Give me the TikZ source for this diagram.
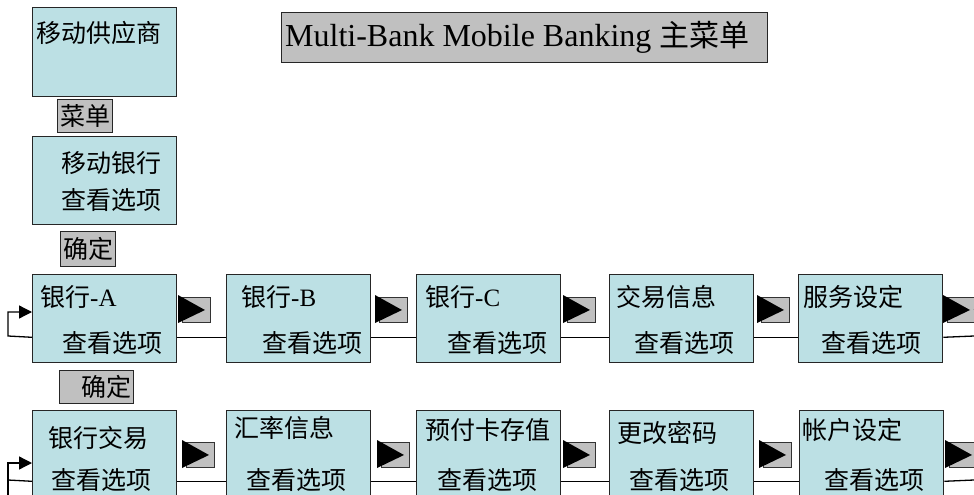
\documentclass[tikz,border=0pt]{standalone}
\usepackage{fontspec}
\setmainfont{Liberation Serif}
\newfontfamily\cjk{Noto Sans CJK SC}
\usetikzlibrary{arrows.meta}
\definecolor{boxfill}{RGB}{188,224,228}
\definecolor{btngray}{RGB}{192,192,192}
\tikzset{
  mbox/.style={draw=black!85, line width=1.3pt, fill=boxfill, minimum width=144pt, minimum height=88pt, inner sep=0pt, anchor=north west},
  glabel/.style={draw=black!85, line width=1.3pt, fill=btngray, inner sep=0pt, anchor=north west},
  btnbox/.style={draw=black!80, line width=1pt, fill=btngray, minimum width=28pt, minimum height=25pt, inner sep=0pt, anchor=north west},
  txt/.style={font=\cjk\fontsize{25}{30}\selectfont, inner sep=0pt, anchor=west},
  conn/.style={line width=1.3pt, black},
  tip/.style={-{Triangle[length=13pt,width=13pt]}}
}
\newcommand\mybtn[3]{%
  \node[btnbox] (#1) at (#2+4,#3) {};
  \fill ([xshift=-4pt,yshift=2pt]#1.north west) -- ([xshift=-4pt]#1.south west) -- ([xshift=23pt]#1.west) -- cycle;}
\begin{document}
\begin{tikzpicture}[x=1pt,y=-1pt]
\useasboundingbox (0,0) rectangle (974,495);
% title
\node[glabel, minimum width=486pt, minimum height=50pt] (title) at (281,12) {};
\node[inner sep=0pt, anchor=west, font=\fontsize{32}{36}\selectfont] (titletxt) at (285,37) {Multi-Bank Mobile Banking {\cjk\fontsize{30}{34}\selectfont 主菜单}};
% top column
\node[mbox, minimum height=89pt] (prov) at (32,7) {};
\node[txt] (provt) at (36,33) {移动供应商};
\node[glabel, minimum width=55pt, minimum height=33pt] (menu) at (57,99) {};
\node[txt, anchor=center] (menut) at (menu.center) {菜单};
\node[mbox] (mb) at (32,136) {};
\node[txt] (mbt1) at (61,163) {移动银行};
\node[txt] (mbt2) at (61,200) {查看选项};
\node[glabel, minimum width=55pt, minimum height=35pt] (ok1) at (60,231) {};
\node[txt, anchor=center] (ok1t) at (ok1.center) {确定};
% row 1
\node[mbox] (r1a) at (32,274) {};
\node[mbox] (r1b) at (226,274) {};
\node[mbox] (r1c) at (416,274) {};
\node[mbox] (r1d) at (609,274) {};
\node[mbox] (r1e) at (798,274) {};
\node[txt] (r1at) at (40,297) {{\cjk 银行}{\rmfamily -A}};
\node[txt] (r1bt) at (241,297) {{\cjk 银行}{\rmfamily -B}};
\node[txt] (r1ct) at (425,297) {{\cjk 银行}{\rmfamily -C}};
\node[txt] (r1dt) at (616,297) {交易信息};
\node[txt] (r1et) at (803,297) {服务设定};
\node[txt] (r1as) at (62,343) {查看选项};
\node[txt] (r1bs) at (262,343) {查看选项};
\node[txt] (r1cs) at (447,343) {查看选项};
\node[txt] (r1ds) at (634,343) {查看选项};
\node[txt] (r1es) at (821,343) {查看选项};
\mybtn{b1a}{178}{297}
\mybtn{b1b}{375}{297}
\mybtn{b1c}{563}{297}
\mybtn{b1d}{757}{297}
\mybtn{b1e}{943}{297}
% second ok
\node[glabel, minimum width=74pt, minimum height=33pt] (ok2) at (59,370) {};
\node[txt] (ok2t) at (81,387) {确定};
% row 2
\node[mbox] (r2a) at (32,410) {};
\node[mbox] (r2b) at (226,410) {};
\node[mbox] (r2c) at (416,410) {};
\node[mbox] (r2d) at (609,410) {};
\node[mbox] (r2e) at (799,410) {};
\node[txt] (r2at) at (48,438) {银行交易};
\node[txt] (r2bt) at (234,428) {汇率信息};
\node[txt] (r2ct) at (425,430) {预付卡存值};
\node[txt] (r2dt) at (617,433) {更改密码};
\node[txt] (r2et) at (802,430) {帐户设定};
\node[txt] (r2as) at (51,480) {查看选项};
\node[txt] (r2bs) at (246,480) {查看选项};
\node[txt] (r2cs) at (437,480) {查看选项};
\node[txt] (r2ds) at (629,480) {查看选项};
\node[txt] (r2es) at (824,480) {查看选项};
\mybtn{b2a}{182}{442}
\mybtn{b2b}{377}{442}
\mybtn{b2c}{563}{442}
\mybtn{b2d}{759}{442}
\mybtn{b2e}{945}{442}
% connectors row 1
\draw[conn] ([yshift=26pt]r1a.south east) -- ([yshift=26pt]r1b.south west);
\draw[conn] ([yshift=26pt]r1b.south east) -- ([yshift=26pt]r1c.south west);
\draw[conn] ([yshift=26pt]r1c.south east) -- ([yshift=26pt]r1d.south west);
\draw[conn] ([yshift=26pt]r1d.south east) -- ([yshift=26pt]r1e.south west);
\coordinate (e1) at (974,336);
\draw[conn] ([yshift=26pt]r1e.south east) -- (e1);
\coordinate (t1) at (974,309);
\draw[conn] (b1e.east) -- (t1);
\coordinate (la1) at (8,336);
\coordinate (lb1) at (8,312);
\draw[conn, tip] ([yshift=26pt]r1a.south west) -- (la1) -- (lb1) -- (r1a.west |- lb1);
% connectors row 2
\draw[conn] ([yshift=18pt]r2a.south east) -- ([yshift=18pt]r2b.south west);
\draw[conn] ([yshift=18pt]r2b.south east) -- ([yshift=18pt]r2c.south west);
\draw[conn] ([yshift=18pt]r2c.south east) -- ([yshift=18pt]r2d.south west);
\draw[conn] ([yshift=18pt]r2d.south east) -- ([yshift=18pt]r2e.south west);
\coordinate (e2) at (974,480);
\draw[conn] ([yshift=18pt]r2e.south east) -- (e2);
\coordinate (la2) at (8,495);
\coordinate (lb2) at (8,463);
\coordinate (lc2) at (8,480);
\draw[conn, tip] (la2) -- (lb2) -- (r2a.west |- lb2);
\draw[conn] ([yshift=18pt]r2a.south west) -- (lc2);
\end{tikzpicture}
\end{document}
